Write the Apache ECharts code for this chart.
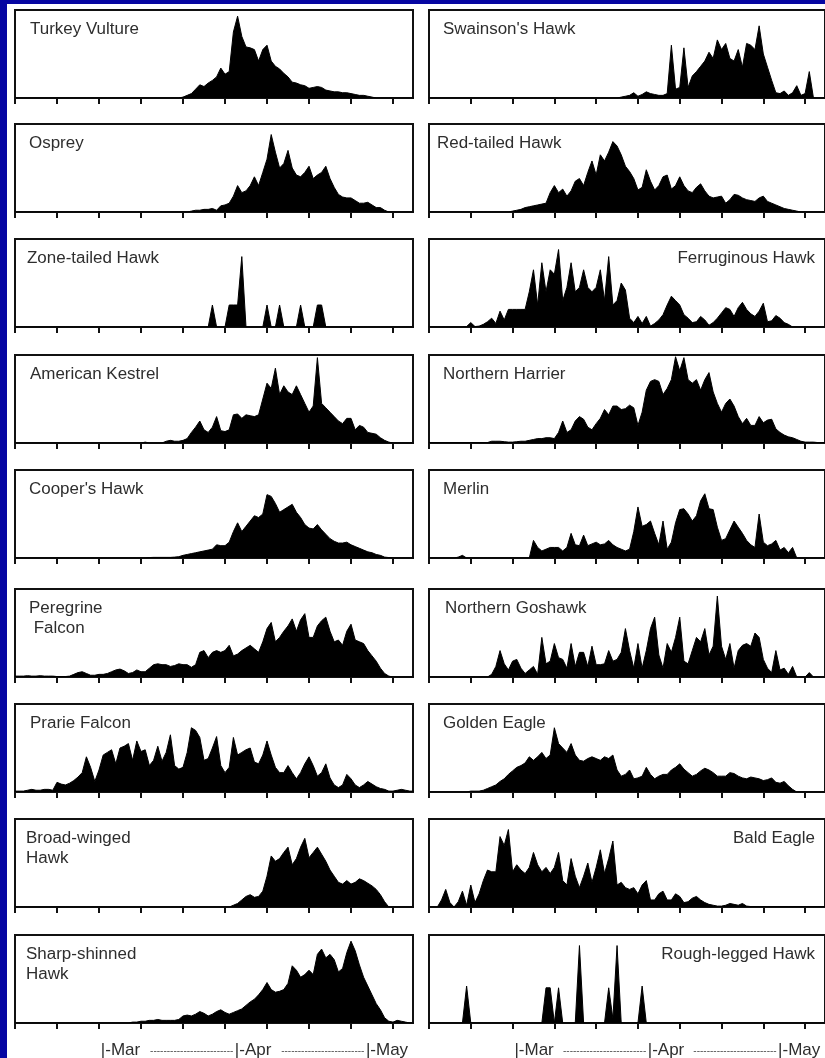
<!DOCTYPE html>
<html>
<head>
<meta charset="utf-8">
<script src="https://cdn.jsdelivr.net/npm/echarts@6/dist/echarts.min.js"></script>
<style>
html,body{margin:0;padding:0;background:#fff;}
#chart{width:825px;height:1058px;}
</style>
</head>
<body>
<div id="chart"></div>
<script>
// ---------- DATA (relative daily counts, day index 0 = left edge of each panel) ----------
const tickDays = [0, 10, 20, 30, 40, 50, 60, 70, 80, 90];
const monthDays = [20.8, 52.7, 83.9];
const monthNames = ['Mar', 'Apr', 'May'];

const speciesLeft = ['Turkey Vulture', 'Osprey', 'Zone-tailed Hawk', 'American Kestrel', "Cooper's Hawk",
  'Peregrine\n Falcon', 'Prarie Falcon', 'Broad-winged\nHawk', 'Sharp-shinned\nHawk'];
const speciesRight = ["Swainson's Hawk", 'Red-tailed Hawk', 'Ferruginous Hawk', 'Northern Harrier', 'Merlin',
  'Northern Goshawk', 'Golden Eagle', 'Bald Eagle', 'Rough-legged Hawk'];

const turkeyVulture = [
0,0,0,0,0,0,0,0,0,0,
0,0,0,0,0,0,0,0,0,0,
0,0,0,0,0,0,0,0,0,0,
0,0,0,0,0,0,0,0,0,0,
1,3,5,10,15,13,17,20,24,34,
27,30,75,93,70,58,57,55,42,55,
60,42,36,33,28,24,18,17,15,14,
11,12,13,12,9,8,7,7,6,6,
5,4,3,3,2,1,0,0,0,0,
0,0,0,0,0,0];

const osprey = [
0,0,0,0,0,0,0,0,0,0,
0,0,0,0,0,0,0,0,0,0,
0,0,0,0,0,0,0,0,0,0,
0,0,0,0,0,0,0,0,0,0,
0,0,1,2,2,3,3,4,2,7,
8,10,18,30,22,24,30,40,30,45,
60,88,68,50,55,70,50,42,40,45,
52,38,42,45,52,38,28,20,17,16,
16,13,10,10,11,8,5,5,2,0,
0,0,0,0,0,0];

const zoneTailedHawk = [
0,0,0,0,0,0,0,0,0,0,
0,0,0,0,0,0,0,0,0,0,
0,0,0,0,0,0,0,0,0,0,
0,0,0,0,0,0,0,0,0,0,
0,0,0,0,0,0,0,25,0,0,
0,25,25,25,80,0,0,0,0,0,
25,0,0,25,0,0,0,0,25,0,
0,0,25,25,0,0,0,0,0,0,
0,0,0,0,0,0,0,0,0,0,
0,0,0,0,0,0];

const americanKestrel = [
0,0,0,0,0,0,0,0,0,0,
0,0,0,0,0,0,0,0,0,0,
0,0,0,0,0,0,0,0,0,0,
0,1,0,0,0,0,2,3,2,2,
3,5,12,18,25,15,12,18,30,14,
13,15,32,33,28,32,31,30,32,50,
68,62,85,55,65,58,55,65,55,45,
35,42,97,45,40,35,30,25,22,28,
28,15,20,18,12,11,10,6,3,1,
0,0,0,0,0,0];

const coopersHawk = [
0,0,0,0,0,0,0,0,0,0,
0,0,0,0,0,0,0,0,0,0,
0,0,0,0,0,0,0,0,0,0,
0,0,0.5,0.7,0.7,0.7,0.7,0.7,1,1.5,
3,4,5,6,7,8,9,10,15,14,
14,18,30,40,30,36,42,48,46,50,
72,70,62,52,55,58,61,52,46,38,
34,33,38,32,27,22,19,17,17,18,
15,13,11,9,7,6,4,3,1,0.5,
0,0,0,0,0,0];

const peregrineFalcon = [
1,1,1,1.5,1,1,1.5,1,1,1,
0.5,0.5,0.5,1,3,5,6,4,2,2,
3,3,4,6,8,9,7,4,5,8,
6,6,10,14,15,14,14,12,13,15,
14,14,11,14,28,30,22,28,30,28,
30,36,24,26,30,33,36,32,28,40,
55,62,40,45,52,58,66,52,65,72,
45,45,58,64,68,52,40,42,36,52,
60,42,40,38,30,24,18,10,4,1,
0,0,0,0,0,0];

const prarieFalcon = [
1,1,1,2,3,2,2,3,3,2,
11,9,8,10,13,17,22,40,28,12,
25,42,45,48,32,50,52,55,36,58,
46,48,30,36,52,35,45,65,30,26,
28,45,73,70,62,36,38,50,63,30,
22,28,62,42,45,48,50,34,32,42,
58,42,28,22,22,30,22,15,22,32,
40,30,18,22,32,16,8,5,8,20,
15,8,5,8,12,9,6,4,3,1,
1,2,3,2,1,1];

const broadWingedHawk = [
0,0,0,0,0,0,0,0,0,0,
0,0,0,0,0,0,0,0,0,0,
0,0,0,0,0,0,0,0,0,0,
0,0,0,0,0,0,0,0,0,0,
0,0,0,0,0,0,0,0,0,0,
0,0,2,4,8,12,14,11,12,18,
35,58,52,55,62,68,48,55,68,78,
56,62,68,60,52,42,35,28,26,30,
26,28,32,30,27,24,20,14,6,0,
0,0,0,0,0,0];

const sharpShinnedHawk = [
0,0,0,0,0,0,0,0,0,0,
0,0,0,0,0,0,0,0,0,0,
0,0,0,0,0,0,0,0,1,1,
2,2,3,3,4,3,3,3,3,4,
8,9,8,10,13,11,8,10,13,15,
12,10,12,14,16,20,24,27,32,38,
46,38,35,36,38,45,65,60,52,55,
60,55,78,84,74,78,72,58,62,80,
93,82,66,52,42,32,22,15,6,2,
1,3,2,1,0,0];

const swainsonsHawk = [
0,0,0,0,0,0,0,0,0,0,
0,0,0,0,0,0,0,0,0,0,
0,0,0,0,0,0,0,0,0,0,
0,0,0,0,0,0,0,0,0,0,
0,0,0,0,0,0,1,2,3,6,
2,4,7,5,4,3,3,5,60,10,
12,57,12,25,30,36,42,52,45,66,
55,62,45,42,55,35,62,60,55,82,
50,35,20,6,5,8,3,6,14,3,
5,30,0,0,0,0];

const redTailedHawk = [
0,0,0,0,0,0,0,0,0,0,
0,0,0,0,0,0,0,0,0,0,
1,2,3,5,6,7,8,9,10,22,
30,22,26,18,24,35,38,30,45,58,
42,65,58,68,80,75,65,52,46,38,
25,28,48,35,25,30,40,42,26,30,
40,30,24,22,28,32,24,18,16,17,
18,10,14,20,19,16,14,13,12,16,
18,12,10,8,6,4,3,2,1,0,
0,0,0,0,0,0];

const ferruginousHawk = [
0,0,0,0,0,0,0,0,0,0.5,
5,0.5,1,3,6,10,4,18,8,20,
20,20,20,20,40,65,25,73,40,65,
60,88,30,45,73,40,45,65,45,40,
45,65,30,80,25,30,50,42,10,5,
12,4,12,1,4,8,14,25,35,30,
25,14,10,5,6,12,8,2,5,10,
16,22,20,12,22,28,20,15,12,18,
27,6,7,13,10,5,3,0,0,0,
0,0,0,0,0,0];

const northernHarrier = [
0.5,0.5,0.5,0.5,0.5,0.5,0.5,0.5,0.5,0.5,
0.5,0.5,0.5,0.5,0.5,2,2,2,1.5,1,
1,1.5,2,2,3,4,5,5,6,6,
5,12,25,12,15,25,30,27,18,15,
22,28,38,32,42,42,38,39,43,40,
20,35,60,70,72,70,55,62,72,98,
82,97,72,68,72,60,72,80,58,45,
35,45,50,42,30,22,28,20,20,30,
23,26,27,16,12,9,7,6,4,2,
1,1,1,0.5,0.5,0.5];

const merlin = [
0,0,0,0,0,0,0,1,3,0,
0,0,0,0,0,0,0,0,0,0,
0,0,0,0,0,20,12,8,10,12,
12,12,8,12,28,15,14,26,14,16,
18,15,16,20,15,12,10,8,10,30,
58,36,38,42,28,15,42,10,18,40,
55,56,50,42,48,65,73,56,55,35,
20,22,32,42,35,28,20,15,12,50,
18,14,16,20,9,12,6,12,0,0,
0,0,0,0,0,0];

const northernGoshawk = [
0,0,0,0,0,0,0,0,0,0,
0,0,0,0,0,3,12,30,15,8,
18,20,10,4,8,12,3,45,15,18,
38,22,20,10,38,12,28,28,12,35,
14,14,15,30,18,20,28,55,30,10,
38,10,30,55,68,25,10,38,28,45,
68,18,15,30,45,40,55,25,35,92,
35,20,38,10,30,36,38,35,50,45,
20,10,5,30,8,10,3,12,0,0,
0,5,0,0,0,0];

const goldenEagle = [
0,0,0,0,0,0,0,0,0,0,
1,1,1,2,4,6,8,12,15,20,
24,28,30,33,40,36,40,45,38,42,
73,55,50,45,55,42,36,35,38,40,
38,36,40,38,42,25,18,20,25,15,
16,18,28,20,15,18,20,20,25,28,
32,26,22,18,20,24,27,25,22,18,
18,18,22,21,18,16,15,17,16,15,
13,14,16,11,10,12,7,3,0,0,
0,0,0,0,0,0];

const baldEagle = [
0,0,0,8,20,5,0,6,18,2,
25,5,15,30,42,40,40,80,70,88,
40,48,42,38,45,62,48,40,45,38,
45,62,30,25,55,35,22,35,50,28,
45,65,38,55,75,25,28,22,20,22,
15,25,30,8,8,15,18,8,8,15,
12,5,6,10,12,8,5,3,2,1,
1,2,4,3,2,4,1,0.5,0.5,0.5,
0.5,0.5,0.5,0.5,0.5,0.5,0.5,0.5,0.5,0.5,
0.5,0.5,0.5,0.5,0.5,0.5];

const roughLeggedHawk = [
0,0,0,0,0,0,0,0,0,42,
0,0,0,0,0,0,0,0,0,0,
0,0,0,0,0,0,0,0,40,40,
0,40,0,0,0,0,88,0,0,0,
0,0,0,40,5,88,0,0,0,0,
0,42,0,0,0,0,0,0,0,0,
0,0,0,0,0,0,0,0,0,0,
0,0,0,0,0,0,0,0,0,0,
0,0,0,0,0,0,0,0,0,0,
0,0,0,0,0,0];

const valuesLeft = [turkeyVulture, osprey, zoneTailedHawk, americanKestrel, coopersHawk,
  peregrineFalcon, prarieFalcon, broadWingedHawk, sharpShinnedHawk];
const valuesRight = [swainsonsHawk, redTailedHawk, ferruginousHawk, northernHarrier, merlin,
  northernGoshawk, goldenEagle, baldEagle, roughLeggedHawk];

// ---------- LAYOUT / STYLE ----------
const FONT = "'Liberation Sans', Arial, Helvetica, sans-serif";
const INK = '#111';
const TEXT = '#2e2e2e';
const BLUE = '#0606a2';
const colLeft = [15, 429];
const rowBase = [98, 212, 327, 443, 558, 677, 792, 907, 1023];
const BOX_H = 88, BOX_W = 398, X_MAX = 94.76;
const rightAligned = { 'Ferruginous Hawk': true, 'Bald Eagle': true, 'Rough-legged Hawk': true };
const labelDx = [15, 14, 12, 15, 14, 14, 15, 11, 11, 14, 8, 0, 14, 14, 16, 14, 0, 0];

const names = speciesLeft.concat(speciesRight);
const allValues = valuesLeft.concat(valuesRight);

const grids = [], xAxes = [], yAxes = [], series = [];
allValues.forEach((vals, i) => {
  const col = i < 9 ? 0 : 1, row = i % 9;
  grids.push({
    left: colLeft[col], top: rowBase[row] - BOX_H, width: BOX_W, height: BOX_H,
    show: true, borderColor: INK, borderWidth: 2, backgroundColor: '#fff'
  });
  xAxes.push({
    gridIndex: i, type: 'value', min: 0, max: X_MAX,
    axisLine: { show: true, onZero: false, lineStyle: { color: INK, width: 2 } },
    axisTick: { show: true, inside: false, length: 6, customValues: tickDays, lineStyle: { color: INK, width: 2 } },
    axisLabel: { show: false }, splitLine: { show: false }
  });
  yAxes.push({ gridIndex: i, type: 'value', min: 0, max: 100, show: false, splitLine: { show: false } });
  series.push({
    type: 'line', xAxisIndex: i, yAxisIndex: i, name: names[i],
    data: vals.map((v, d) => [d, v]),
    symbol: 'none', silent: true, clip: true,
    lineStyle: { color: '#000', width: 1 },
    areaStyle: { color: '#000', opacity: 1 }
  });
});

const chart = echarts.init(document.getElementById('chart'), null, { renderer: 'canvas' });
chart.setOption({
  animation: false,
  backgroundColor: '#fff',
  grid: grids, xAxis: xAxes, yAxis: yAxes, series: series
});

// ---------- TEXT & FRAME ----------
const graphics = [];
graphics.push({ type: 'rect', z: 200, shape: { x: 0, y: 0, width: 7, height: 1058 }, style: { fill: BLUE } });
graphics.push({ type: 'rect', z: 200, shape: { x: 0, y: 0, width: 825, height: 4 }, style: { fill: BLUE } });

names.forEach((name, i) => {
  const col = i < 9 ? 0 : 1, row = i % 9;
  const top = rowBase[row] - BOX_H;
  const isRight = !!rightAligned[name];
  graphics.push({
    type: 'text', z: 100,
    x: isRight ? 815 : colLeft[col] + labelDx[i],
    y: top + 10,
    scaleX: 1.06,
    style: {
      text: name, fontSize: 16, fontFamily: FONT, fill: TEXT,
      textAlign: isRight ? 'right' : 'left', textVerticalAlign: 'top', lineHeight: 20
    }
  });
});

const dashRule = '-------------------------';
[8, 17].forEach(axisIdx => {
  const px = monthDays.map(d => chart.convertToPixel({ xAxisIndex: axisIdx }, d));
  px.forEach((x, k) => {
    graphics.push({
      type: 'text', z: 100, x: x - 1.5, y: 1050,
      style: { text: '|-' + monthNames[k], fontSize: 17, fontFamily: FONT, fill: TEXT,
               textAlign: 'left', textVerticalAlign: 'middle' }
    });
    if (k < px.length - 1) {
      graphics.push({
        type: 'text', z: 100, x: px[k + 1] - 3, y: 1051,
        style: { text: dashRule, fontSize: 10, fontFamily: FONT, fill: '#555',
                 textAlign: 'right', textVerticalAlign: 'middle' }
      });
    }
  });
});

chart.setOption({ graphic: graphics });
</script>
</body>
</html>
